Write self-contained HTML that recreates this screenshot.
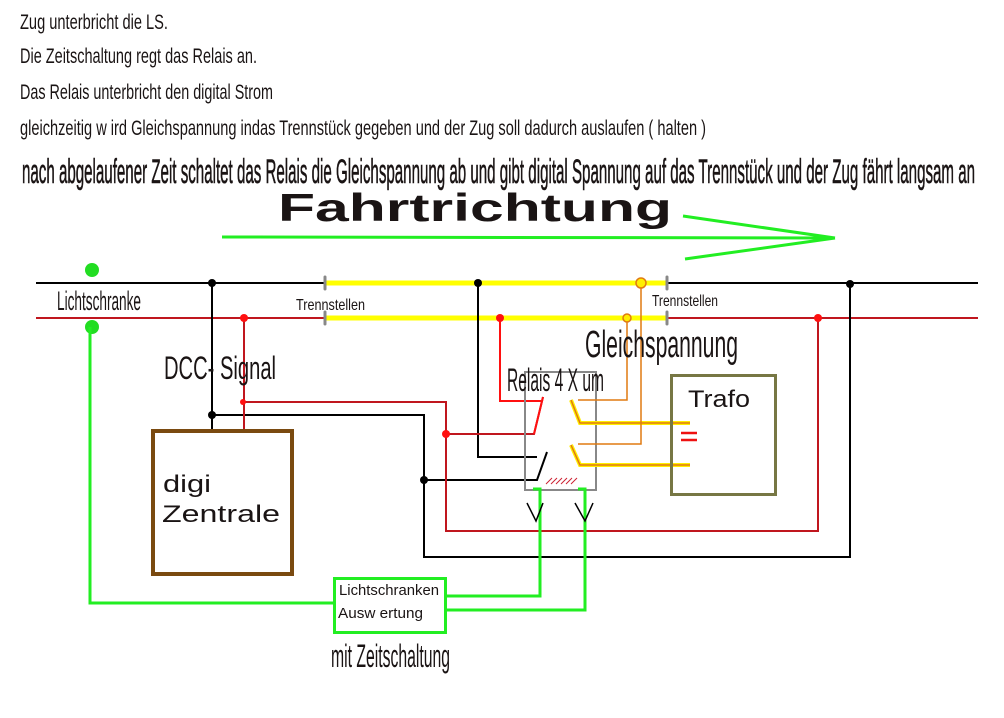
<!DOCTYPE html>
<html><head><meta charset="utf-8"><style>
html,body{margin:0;padding:0;background:#fff;}
svg{display:block;}
text{font-family:"Liberation Sans",sans-serif;fill:#1a1414;}
</style></head><body>
<svg width="1004" height="718" viewBox="0 0 1004 718" xmlns="http://www.w3.org/2000/svg">
<rect width="1004" height="718" fill="#fff"/>
<!-- top text -->
<text x="20" y="29" font-size="21" textLength="148" lengthAdjust="spacingAndGlyphs">Zug unterbricht die LS.</text>
<text x="20" y="63" font-size="21" textLength="237" lengthAdjust="spacingAndGlyphs">Die Zeitschaltung regt das Relais an.</text>
<text x="20" y="99" font-size="21" textLength="253" lengthAdjust="spacingAndGlyphs">Das Relais unterbricht den digital Strom</text>
<text x="20" y="135" font-size="21" textLength="686" lengthAdjust="spacingAndGlyphs">gleichzeitig w ird Gleichspannung indas Trennstück gegeben und der Zug soll dadurch auslaufen ( halten )</text>
<text x="22" y="183" font-size="34" stroke="#1a1414" stroke-width="0.6" textLength="953" lengthAdjust="spacingAndGlyphs">nach abgelaufener Zeit schaltet das Relais die Gleichspannung ab und gibt digital Spannung auf das Trennstück und der Zug fährt langsam an</text>
<text x="278" y="221" font-size="39" font-weight="bold" textLength="394" lengthAdjust="spacingAndGlyphs">Fahrtrichtung</text>
<!-- arrow -->
<g stroke="#22ee22" stroke-width="3" fill="none">
<line x1="222" y1="237" x2="835" y2="238"/>
<line x1="683" y1="216" x2="835" y2="238"/>
<line x1="685" y1="259" x2="835" y2="238"/>
</g>
<!-- rails -->
<line x1="36" y1="283" x2="325" y2="283" stroke="#000" stroke-width="2"/>
<line x1="667" y1="283" x2="978" y2="283" stroke="#000" stroke-width="2"/>
<line x1="36" y1="318" x2="325" y2="318" stroke="#c0161e" stroke-width="2"/>
<line x1="667" y1="318" x2="978" y2="318" stroke="#c0161e" stroke-width="2"/>
<line x1="325" y1="283" x2="667" y2="283" stroke="#ffff00" stroke-width="5"/>
<line x1="325" y1="318" x2="667" y2="318" stroke="#ffff00" stroke-width="5"/>
<g stroke="#888" stroke-width="3" stroke-linecap="round">
<line x1="325" y1="277" x2="325" y2="289"/><line x1="325" y1="312" x2="325" y2="324"/>
<line x1="667" y1="277" x2="667" y2="289"/><line x1="667" y1="312" x2="667" y2="324"/>
</g>
<text x="296" y="310" font-size="16" textLength="69" lengthAdjust="spacingAndGlyphs">Trennstellen</text>
<text x="652" y="306" font-size="16" textLength="66" lengthAdjust="spacingAndGlyphs">Trennstellen</text>
<circle cx="92" cy="270" r="7" fill="#22dd22"/>
<circle cx="92" cy="327" r="7" fill="#22dd22"/>
<text x="57" y="310" font-size="27" textLength="84" lengthAdjust="spacingAndGlyphs">Lichtschranke</text>
<!-- black wires -->
<g stroke="#000" stroke-width="2" fill="none">
<polyline points="212,283 212,432"/>
<polyline points="212,415 424,415 424,557 850,557 850,283"/>
<polyline points="424,480 537,480 547,452"/>
<polyline points="478,283 478,457 537,457"/>
</g>
<g fill="#000"><circle cx="212" cy="283" r="4"/><circle cx="212" cy="415" r="4"/><circle cx="424" cy="480" r="4"/><circle cx="478" cy="283" r="4"/><circle cx="850" cy="284" r="4"/></g>
<!-- red wires -->
<g stroke="#c0161e" stroke-width="2" fill="none">
<polyline points="244,318 244,432"/>
<polyline points="243,402 446,402 446,531 818,531 818,318"/>
<polyline points="446,434 534,434 543,397"/>
</g>
<polyline points="500,318 500,401 541,401" stroke="#ff1010" stroke-width="2" fill="none"/>
<line x1="534" y1="434" x2="543" y2="397" stroke="#ff1010" stroke-width="2"/>
<g fill="#ff1010"><circle cx="244" cy="318" r="4"/><circle cx="243" cy="402" r="3"/><circle cx="446" cy="434" r="4"/><circle cx="500" cy="318" r="4"/><circle cx="818" cy="318" r="4"/></g>
<!-- relais -->
<rect x="525" y="372" width="71" height="118" fill="none" stroke="#888" stroke-width="2"/>
<text x="507" y="391" font-size="32" textLength="97" lengthAdjust="spacingAndGlyphs">Relais 4 X um</text>
<g stroke="#cc2233" stroke-width="1">
<line x1="546" y1="484" x2="552" y2="478"/><line x1="551" y1="484" x2="557" y2="478"/><line x1="556" y1="484" x2="562" y2="478"/><line x1="561" y1="484" x2="567" y2="478"/><line x1="566" y1="484" x2="572" y2="478"/><line x1="571" y1="484" x2="577" y2="478"/>
</g>
<!-- yellow/orange -->
<g stroke="#ffee00" stroke-width="4" fill="none">
<polyline points="571,400 580,423 690,423"/>
<polyline points="571,445 580,465 690,465"/>
</g>
<g stroke="#e07a10" stroke-width="1.5" fill="none">
<polyline points="641,283 641,444 578,444"/>
<polyline points="627,318 627,400 578,400"/>
<polyline points="571,400 580,423 690,423"/>
<polyline points="571,445 580,465 690,465"/>
</g>
<circle cx="641" cy="283" r="5" fill="#ffee00" stroke="#e07a10" stroke-width="1.5"/>
<circle cx="627" cy="318" r="4" fill="#ffee00" stroke="#e07a10" stroke-width="1.5"/>
<text x="585" y="357" font-size="38" textLength="153" lengthAdjust="spacingAndGlyphs">Gleichspannung</text>
<!-- trafo -->
<rect x="671.5" y="375.5" width="104" height="119" fill="none" stroke="#777744" stroke-width="3"/>
<text x="688" y="407" font-size="24" textLength="62" lengthAdjust="spacingAndGlyphs">Trafo</text>
<g stroke="#ee1111" stroke-width="2.5"><line x1="681" y1="433" x2="697" y2="433"/><line x1="681" y1="440" x2="697" y2="440"/></g>
<text x="164" y="379" font-size="32" textLength="112" lengthAdjust="spacingAndGlyphs">DCC- Signal</text>
<!-- digi -->
<rect x="153" y="431" width="139" height="143" fill="none" stroke="#7a4a10" stroke-width="4"/>
<text x="163" y="492" font-size="24" textLength="48" lengthAdjust="spacingAndGlyphs">digi</text>
<text x="162" y="522" font-size="24" textLength="118" lengthAdjust="spacingAndGlyphs">Zentrale</text>
<!-- green -->
<g stroke="#22ee22" stroke-width="3" fill="none">
<polyline points="90,327 90,603 334,603"/>
<polyline points="445,596 540,596 540,489 533,489"/>
<polyline points="445,610 585,610 585,489 578,489"/>
</g>
<rect x="334.5" y="578.5" width="111" height="54" fill="#fff" stroke="#22ee22" stroke-width="3"/>
<text x="339" y="595" font-size="15" textLength="100" lengthAdjust="spacingAndGlyphs">Lichtschranken</text>
<text x="338" y="618" font-size="15" textLength="85" lengthAdjust="spacingAndGlyphs">Ausw ertung</text>
<text x="331" y="667" font-size="32" textLength="119" lengthAdjust="spacingAndGlyphs">mit Zeitschaltung</text>
<g stroke="#000" stroke-width="1.5" fill="none">
<polyline points="527,503 536,521 543,503"/>
<polyline points="575,503 585,521 593,503"/>
</g>
</svg>
</body></html>
